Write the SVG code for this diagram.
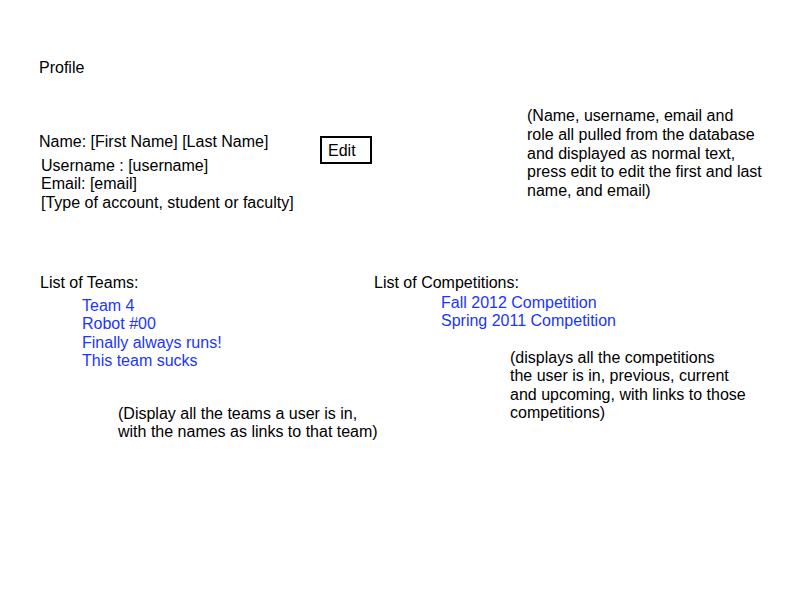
<svg xmlns="http://www.w3.org/2000/svg" width="800" height="600" viewBox="0 0 800 600">
<style>
text{font-family:"Liberation Sans",Arial,sans-serif;font-size:16px;fill:#000}
.l{fill:#1a35ff}
</style>
<rect width="800" height="600" fill="#fff"/>
<g id="profile"><text x="39" y="73">Profile</text></g>
<g id="info">
<text x="39" y="147">Name: [First Name] [Last Name]</text>
<text x="41" y="171">Username : [username]</text>
<text x="41" y="189">Email: [email]</text>
<text x="41" y="208">[Type of account, student or faculty]</text>
</g>
<g id="edit"><rect x="321" y="137" width="50" height="26" fill="none" stroke="#000" stroke-width="2"/><text x="328" y="156">Edit</text></g>
<g id="note1">
<text x="527" y="121">(Name, username, email and</text>
<text x="527" y="140">role all pulled from the database</text>
<text x="527" y="159">and displayed as normal text,</text>
<text x="527" y="177">press edit to edit the first and last</text>
<text x="527" y="196">name, and email)</text>
</g>
<g id="teams">
<text x="40" y="288">List of Teams:</text>
<text class="l" x="82" y="311">Team 4</text>
<text class="l" x="82" y="329">Robot #00</text>
<text class="l" x="82" y="348">Finally always runs!</text>
<text class="l" x="82" y="366">This team sucks</text>
</g>
<g id="note2">
<text x="118" y="419">(Display all the teams a user is in,</text>
<text x="118" y="437">with the names as links to that team)</text>
</g>
<g id="comps">
<text x="374" y="288">List of Competitions:</text>
<text class="l" x="441" y="308">Fall 2012 Competition</text>
<text class="l" x="441" y="326">Spring 2011 Competition</text>
</g>
<g id="note3">
<text x="510" y="363">(displays all the competitions</text>
<text x="510" y="381">the user is in, previous, current</text>
<text x="510" y="400">and upcoming, with links to those</text>
<text x="510" y="418">competitions)</text>
</g>
<g id="connectors"/>
</svg>
